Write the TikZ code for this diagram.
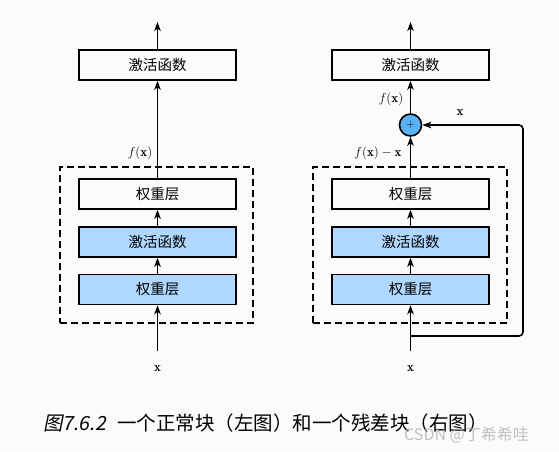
\documentclass[tikz,border=0pt]{standalone}
\usepackage{fix-cm}
\usepackage{fontspec}
\usepackage{amsmath}
\newfontfamily\cjk{Noto Sans CJK SC}
\newfontfamily\cjkit[FakeSlant=0.2]{Noto Sans CJK SC}
\usetikzlibrary{arrows.meta}
\definecolor{boxblue}{RGB}{176,216,255}
\definecolor{plusblue}{RGB}{88,178,245}
\definecolor{bg}{RGB}{251,251,251}
\begin{document}
\begin{tikzpicture}[x=1pt,y=-1pt,
  box/.style={draw, line width=1.6pt, minimum width=157pt, minimum height=30pt, inner sep=0pt, font=\cjk\fontsize{14.5}{16}\selectfont},
  bluebox/.style={box, fill=boxblue},
  dashbox/.style={draw, dashed, dash pattern=on 7pt off 4pt, line width=1.5pt, inner sep=0pt},
  arr/.style={-{Stealth[length=9pt,width=6.5pt,inset=2.5pt]}, line width=1.6pt},
  lab/.style={font=\fontsize{13}{15}\selectfont, inner sep=0pt}]
\fill[bg] (0,0) rectangle (559,451);
\useasboundingbox (0,0) rectangle (559,451);
% left block
\node[dashbox, minimum width=193pt, minimum height=156pt] (dl) at (156.5,245) {};
\node[box] (actL) at (157.5,65) {激活函数};
\node[box] (w2L) at (157.5,194) {权重层};
\node[bluebox] (aL) at (157.5,242) {激活函数};
\node[bluebox] (w1L) at (157.5,289.5) {权重层};
\coordinate (inL) at (157.5,351);
\coordinate (topL) at (157.5,22);
\node[lab] (xL) at (157.5,369) {$\mathbf{x}$};
\node[lab] (fL) at (140,153) {$f(\mathbf{x})$};
\draw[arr] (inL) -- (w1L.south);
\draw[arr] (w1L.north) -- (aL.south);
\draw[arr] (aL.north) -- (w2L.south);
\draw[arr] (w2L.north) -- (actL.south);
\draw[arr] (actL.north) -- (topL);
% right block
\node[dashbox, minimum width=194pt, minimum height=156pt] (dr) at (410,245) {};
\node[box] (actR) at (410.5,65) {激活函数};
\node[box] (w2R) at (410.5,194) {权重层};
\node[bluebox] (aR) at (410.5,242) {激活函数};
\node[bluebox] (w1R) at (410.5,289.5) {权重层};
\node[circle, draw, line width=1.6pt, fill=plusblue, minimum size=22pt, inner sep=0pt, font=\fontsize{11}{11}\selectfont] (plus) at (410.5,125) {$+$};
\coordinate (inR) at (410.5,351);
\coordinate (topR) at (410.5,22);
\coordinate (skip) at (410.5,336);
\node[lab] (xR) at (410.5,369) {$\mathbf{x}$};
\node[lab] (fR) at (391,99) {$f(\mathbf{x})$};
\node[lab] (fxR) at (378,153) {$f(\mathbf{x})-\mathbf{x}$};
\node[lab] (xs) at (460,113) {$\mathbf{x}$};
\draw[arr] (inR) -- (w1R.south);
\draw[arr] (w1R.north) -- (aR.south);
\draw[arr] (aR.north) -- (w2R.south);
\draw[arr] (w2R.north) -- (plus.south);
\draw[arr] (plus.north) -- (actR.south);
\draw[arr] (actR.north) -- (topR);
\draw[arr, rounded corners=4pt] (skip) -- (523,336) -- (523,125) -- (plus.east);
% caption
\node[anchor=west, inner sep=0pt, font=\fontsize{19.5}{22}\selectfont] (cap) at (43,423) {{\cjkit 图7.6.2}\hspace{11pt}{\cjk 一个正常块（左图）和一个残差块（右图）}};
\node[anchor=west, inner sep=0pt, text=black!30, opacity=0.8, font=\cjk\fontsize{16}{18}\selectfont] (wm) at (404,435) {CSDN @丁希希哇};
\end{tikzpicture}
\end{document}
